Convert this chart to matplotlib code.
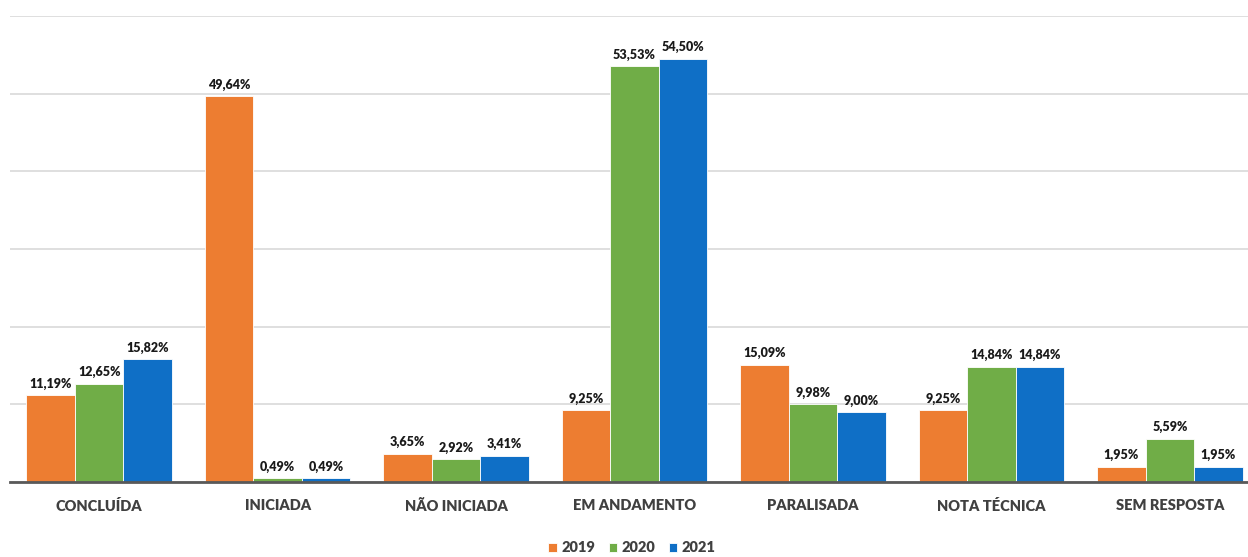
import matplotlib
matplotlib.use("Agg")
import matplotlib.pyplot as plt
import numpy as np

categories = ["CONCLUÍDA", "INICIADA", "NÃO INICIADA", "EM ANDAMENTO", "PARALISADA", "NOTA TÉCNICA", "SEM RESPOSTA"]
series_names = ["2019", "2020", "2021"]
v2019 = [11.19, 49.64, 3.65, 9.25, 15.09, 9.25, 1.95]
v2020 = [12.65, 0.49, 2.92, 53.53, 9.98, 14.84, 5.59]
v2021 = [15.82, 0.49, 3.41, 54.50, 9.00, 14.84, 1.95]
colors = ["#ED7D31", "#70AD47", "#0F6FC6"]

plt.rcParams['font.family'] = ['Lato', 'DejaVu Sans']

fig = plt.figure(figsize=(12.48, 5.57), dpi=100)
ax = fig.add_axes([10 / 1248, 75 / 557, 1238 / 1248, (482 - 16) / 557])

x = np.arange(len(categories))
bw = 0.272
for i, (vals, c, name) in enumerate(zip([v2019, v2020, v2021], colors, series_names)):
    pos = x + (i - 1) * bw
    ax.bar(pos, vals, width=bw, color=c, label=name, edgecolor='white', linewidth=0.6, zorder=3)
    for xp, v in zip(pos, vals):
        ax.annotate(f"{v:.2f}%".replace('.', ','), (xp, v), xytext=(0, 4), textcoords='offset points',
                    ha='center', va='bottom', fontsize=9, fontweight='heavy', color='#1a1a1a')

ax.set_ylim(0, 60)
ax.set_xlim(-0.5, 6.5 - 11 / 178.3)
ax.set_yticks(np.arange(0, 61, 10))
ax.yaxis.grid(True, color='#d9d9d9', linewidth=1.2, zorder=0)
ax.set_yticklabels([])
ax.tick_params(axis='y', length=0)
ax.tick_params(axis='x', length=0, pad=12)
ax.set_xticks(x)
ax.set_xticklabels(categories, fontsize=10.5, fontweight='heavy', color='#404040')
for s in ['top', 'right', 'left']:
    ax.spines[s].set_visible(False)
ax.spines['bottom'].set_color('#595959')
ax.spines['bottom'].set_linewidth(2)
ax.spines['bottom'].set_zorder(4)

leg = fig.legend(loc='center', bbox_to_anchor=(632 / 1248, 1 - 548 / 557), ncol=3, frameon=False,
                 handlelength=0.6, handleheight=0.6, handletextpad=0.3, columnspacing=0.9,
                 prop={'weight': 'heavy', 'size': 10.5})
for t in leg.get_texts():
    t.set_color('#404040')

fig.savefig("out.png", dpi=100)
